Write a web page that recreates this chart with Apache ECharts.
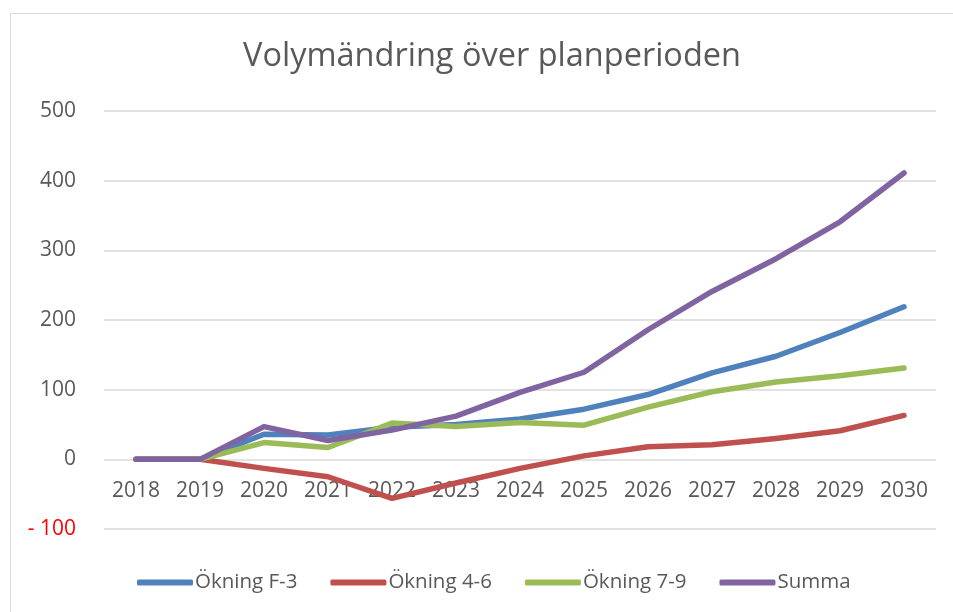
<!DOCTYPE html>
<html>
<head>
<meta charset="utf-8">
<script src="https://cdn.jsdelivr.net/npm/echarts@6/dist/echarts.min.js"></script>
<style>
  html, body { margin: 0; padding: 0; background: #fff; }
  #frame { position: absolute; left: 10px; top: 13px; width: 960px; height: 620px;
           border-left: 1.5px solid #d9d9d9; border-top: 1.5px solid #d9d9d9; }
  #chart { position: absolute; left: 0; top: 0; width: 953px; height: 612px; }
</style>
</head>
<body>
<div id="frame"></div>
<div id="chart"></div>
<script>
var years = ['2018', '2019', '2020', '2021', '2022', '2023', '2024', '2025', '2026', '2027', '2028', '2029', '2030'];
var okningF3 = [0, 0, 36, 35, 46, 50, 58, 72, 93, 124, 148, 182, 219];
var okning46 = [0, 0, -13, -25, -56, -34, -13, 5, 18, 21, 30, 41, 63];
var okning79 = [0, 0, 24, 17, 52, 47, 53, 49, 75, 97, 111, 120, 131];
var summa = [0, 0, 47, 27, 42, 62, 96, 125, 186, 241, 288, 341, 411];

var grey = '#595959';
var chart = echarts.init(document.getElementById('chart'), null, {renderer: 'canvas'});

function makeSeries(name, data, color) {
  return {
    name: name,
    type: 'line',
    data: data,
    symbol: 'none',
    lineStyle: { width: 5.5, color: color, cap: 'round', join: 'round' },
    itemStyle: { color: color }
  };
}

option = {
  animation: false,
  title: {
    text: 'Volymändring över planperioden',
    left: 487,
    textAlign: 'center',
    top: 35,
    textStyle: { fontFamily: 'Open Sans', fontSize: 32.5, fontWeight: 'normal', color: grey }
  },
  grid: { left: 104, right: 17, top: 111, bottom: 83 },
  legend: {
    top: 567,
    left: 132,
    itemWidth: 56,
    itemHeight: 6,
    itemGap: 33,
    icon: 'roundRect',
    textStyle: { fontFamily: 'Open Sans', fontSize: 20.5, color: grey, padding: [0, 0, 0, -3] },
    data: ['Ökning F-3', 'Ökning 4-6', 'Ökning 7-9', 'Summa']
  },
  xAxis: {
    type: 'category',
    data: years,
    boundaryGap: true,
    axisLine: { show: false },
    axisTick: { show: false },
    axisLabel: { fontFamily: 'Open Sans', fontSize: 21, color: grey, margin: -48, interval: 0 }
  },
  yAxis: {
    type: 'value',
    min: -100,
    max: 500,
    interval: 100,
    axisLine: { show: false },
    axisTick: { show: false },
    splitLine: { lineStyle: { color: '#d9d9d9', width: 1.5 } },
    axisLabel: {
      fontFamily: 'Open Sans',
      fontSize: 21,
      margin: 28,
      color: function (value) { return value < 0 ? '#ff0000' : grey; },
      formatter: function (value) { return value < 0 ? '- ' + Math.abs(value) : value; }
    }
  },
  series: [
    makeSeries('Ökning F-3', okningF3, '#4f81bd'),
    makeSeries('Ökning 4-6', okning46, '#c0504d'),
    makeSeries('Ökning 7-9', okning79, '#9bbb59'),
    makeSeries('Summa', summa, '#8064a2')
  ]
};
chart.setOption(option);
</script>
</body>
</html>
